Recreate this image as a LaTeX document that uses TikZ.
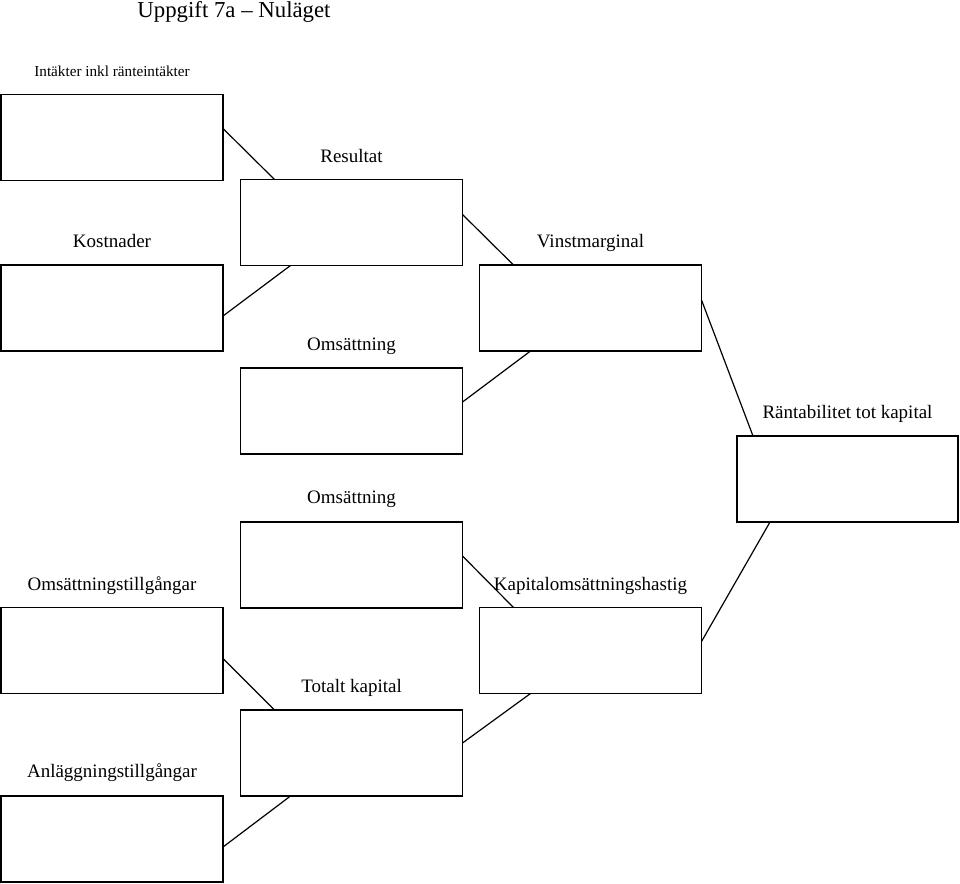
\documentclass[tikz,border=0pt]{standalone}
\usepackage{fontspec}
\setmainfont{Liberation Serif}
\begin{document}
\begin{tikzpicture}[x=1pt,y=-1pt,
  box/.style={draw,line width=1.2pt,minimum width=222pt,minimum height=86pt,inner sep=0pt,outer sep=0pt},
  lbl/.style={anchor=base,font=\fontsize{19}{22}\selectfont,inner sep=0pt},
  conn/.style={line width=1.2pt}]
\useasboundingbox (0,0) rectangle (960,883);
\node[anchor=base,font=\fontsize{22.8}{26}\selectfont,inner sep=0pt] (title) at (234,18) {Uppgift 7a – Nuläget};
% boxes
\node[box] (b1) at (112,137.5) {};
\node[box] (res) at (351.5,222.5) {};
\node[box] (kost) at (112,308) {};
\node[box] (vinst) at (590.5,308) {};
\node[box] (oms1) at (351.5,411) {};
\node[box,minimum width=221pt] (rant) at (847.5,479) {};
\node[box] (oms2) at (351.5,565) {};
\node[box] (otill) at (112,650.5) {};
\node[box] (kap) at (590.5,650.5) {};
\node[box] (tot) at (351.5,753) {};
\node[box] (anl) at (112,839) {};
% labels
\node[anchor=base,font=\fontsize{15.2}{18}\selectfont,inner sep=0pt] (l1) at (112,77) {Intäkter inkl ränteintäkter};
\node[lbl] (lres) at (351.5,162) {Resultat};
\node[lbl] (lkost) at (112,247) {Kostnader};
\node[lbl] (lvinst) at (590.5,247) {Vinstmarginal};
\node[lbl] (loms1) at (351.5,350) {Omsättning};
\node[lbl] (lrant) at (847.5,418) {Räntabilitet tot kapital};
\node[lbl] (loms2) at (351.5,503) {Omsättning};
\node[lbl] (lotill) at (112,590) {Omsättningstillgångar};
\node[lbl] (lkap) at (590.5,590) {Kapitalomsättningshastig};
\node[lbl] (ltot) at (351.5,692) {Totalt kapital};
\node[lbl] (lanl) at (112,777) {Anläggningstillgångar};
% connectors
\draw[conn] ([yshift=-34pt]b1.north east) -- ([xshift=34pt]res.north west);
\draw[conn] ([yshift=-51pt]kost.north east) -- ([xshift=50pt]res.south west);
\draw[conn] ([yshift=-35pt]res.north east) -- ([xshift=34pt]vinst.north west);
\draw[conn] ([yshift=-34pt]oms1.north east) -- ([xshift=51pt]vinst.south west);
\draw[conn] ([yshift=-35pt]vinst.north east) -- ([xshift=16pt]rant.north west);
\draw[conn] ([yshift=-34pt]kap.north east) -- ([xshift=33pt]rant.south west);
\draw[conn] ([yshift=-34pt]oms2.north east) -- ([xshift=34pt]kap.north west);
\draw[conn] ([yshift=-33pt]tot.north east) -- ([xshift=51pt]kap.south west);
\draw[conn] ([yshift=-51pt]otill.north east) -- ([xshift=34pt]tot.north west);
\draw[conn] ([yshift=-51pt]anl.north east) -- ([xshift=50pt]tot.south west);
\end{tikzpicture}
\end{document}
